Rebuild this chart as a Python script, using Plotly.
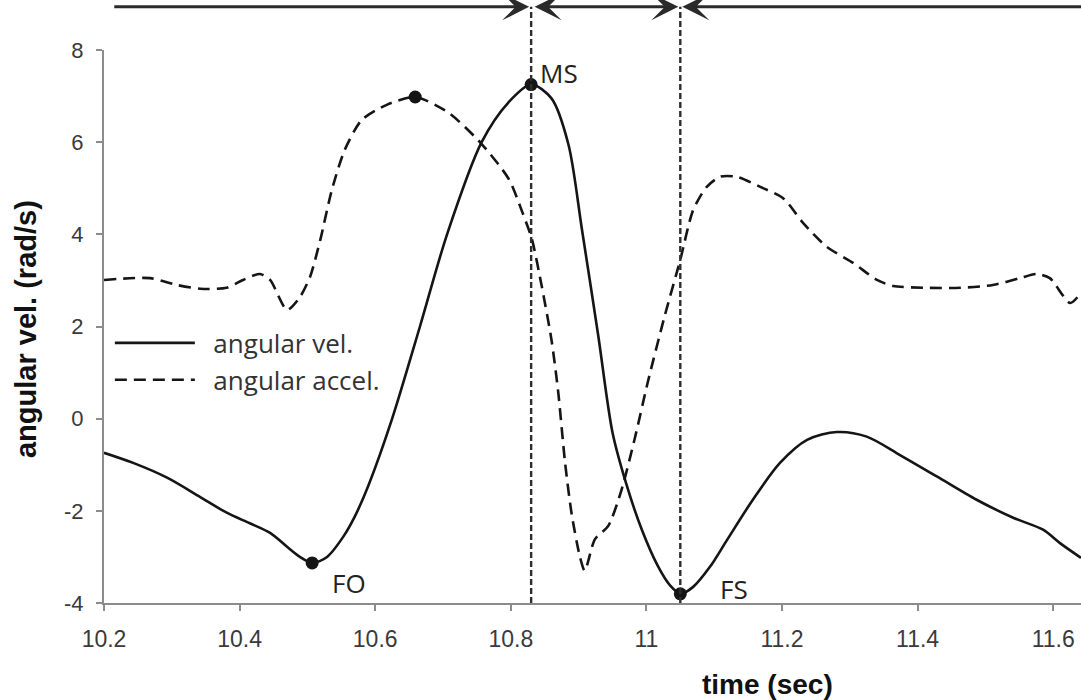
import plotly.graph_objects as go

# angular velocity (rad/s) sampled over time (sec)
t_vel = [10.200, 10.243, 10.293, 10.342, 10.381, 10.415, 10.445, 10.470, 10.489,
         10.507, 10.529, 10.553, 10.570, 10.590, 10.625, 10.666, 10.706, 10.757,
         10.797, 10.830, 10.860, 10.885, 10.905, 10.929, 10.950, 10.970, 10.993,
         11.017, 11.035, 11.050, 11.069, 11.094, 11.119, 11.157, 11.197, 11.237,
         11.281, 11.325, 11.374, 11.429, 11.487, 11.541, 11.585, 11.610, 11.641]
vel = [-0.74, -0.96, -1.28, -1.70, -2.04, -2.27, -2.48, -2.78, -3.00,
       -3.13, -3.00, -2.56, -2.12, -1.45, 0.00, 2.00, 4.00, 6.00,
       6.87, 7.25, 6.95, 5.95, 4.10, 1.80, -0.30, -1.40, -2.40,
       -3.20, -3.62, -3.80, -3.65, -3.21, -2.63, -1.76, -0.96, -0.46,
       -0.29, -0.39, -0.79, -1.26, -1.76, -2.15, -2.41, -2.70, -3.02]

# angular acceleration sampled over time (sec)
t_acc = [10.200, 10.268, 10.308, 10.342, 10.381, 10.405, 10.430, 10.445, 10.470,
         10.489, 10.504, 10.519, 10.536, 10.555, 10.580, 10.617, 10.659, 10.708,
         10.757, 10.797, 10.816, 10.831, 10.845, 10.860, 10.870, 10.880, 10.890,
         10.902, 10.909, 10.924, 10.944, 10.963, 10.983, 11.002, 11.027, 11.050,
         11.069, 11.089, 11.109, 11.133, 11.168, 11.202, 11.231, 11.266, 11.305,
         11.340, 11.364, 11.414, 11.463, 11.511, 11.551, 11.576, 11.595, 11.625,
         11.641]
acc = [3.01, 3.05, 2.90, 2.82, 2.84, 3.01, 3.14, 3.01, 2.36,
       2.64, 3.08, 3.88, 4.96, 5.83, 6.48, 6.81, 6.98, 6.64,
       5.96, 5.20, 4.52, 3.90, 2.92, 1.71, 0.57, -0.95, -2.09,
       -3.00, -3.30, -2.62, -2.32, -1.56, -0.42, 0.79, 2.23, 3.45,
       4.53, 5.03, 5.25, 5.25, 5.03, 4.78, 4.25, 3.73, 3.38,
       3.01, 2.88, 2.84, 2.84, 2.90, 3.05, 3.14, 3.05, 2.51,
       2.73]

# gait events on the velocity curve
event_names = ["FO", "MS", "FS"]
event_t = [10.507, 10.830, 11.050]
event_v = [-3.13, 7.25, -3.80]

# peak of the acceleration curve
acc_peak_t = [10.659]
acc_peak_v = [6.98]

# phase boundaries (vertical markers)
phase_t = [10.830, 11.050]

x_ticks = [10.2, 10.4, 10.6, 10.8, 11.0, 11.2, 11.4, 11.6]
x_ticktext = ["10.2", "10.4", "10.6", "10.8", "11", "11.2", "11.4", "11.6"]
y_ticks = [-4, -2, 0, 2, 4, 6, 8]
y_ticktext = ["-4", "-2", "0", "2", "4", "6", "8"]

INK = "#151515"
AXIS = "#8c8c8c"
LABEL_FONT = "Open Sans"
TICK_FONT = "Liberation Sans"
NBSP = "\u00a0"

fig = go.Figure()

fig.add_trace(go.Scatter(
    x=t_vel, y=vel, mode="lines", name=NBSP * 2 + "angular vel.",
    line=dict(color=INK, width=2.6, shape="spline", smoothing=0.85),
))
fig.add_trace(go.Scatter(
    x=t_acc, y=acc, mode="lines", name=NBSP * 2 + "angular accel.",
    line=dict(color=INK, width=2.6, dash="12px,7px", shape="spline", smoothing=0.7),
))
fig.add_trace(go.Scatter(
    x=event_t, y=event_v, mode="markers", showlegend=False,
    marker=dict(color=INK, size=13), cliponaxis=False,
))
fig.add_trace(go.Scatter(
    x=acc_peak_t, y=acc_peak_v, mode="markers", showlegend=False,
    marker=dict(color=INK, size=13), cliponaxis=False,
))

# the plot area tops out at y=8 (paper 1.0); the phase bar runs just above it
bar_y = 1.078

for t in phase_t:
    fig.add_shape(type="line", xref="x", yref="paper", x0=t, x1=t, y0=0, y1=bar_y,
                  line=dict(color="#2e2e2e", width=2.4, dash="6px,3px"), layer="above")

arrow_style = dict(showarrow=True, text="", xref="x", yref="paper", axref="x", ayref="pixel",
                   ay=0, arrowhead=3, arrowsize=1.5, arrowwidth=3, arrowcolor="#2a2a2a",
                   standoff=2, startstandoff=2)
fig.add_annotation(x=phase_t[0], y=bar_y, ax=10.21, **arrow_style)
fig.add_annotation(x=phase_t[1], y=bar_y, ax=phase_t[0], arrowside="end+start",
                   startarrowhead=3, startarrowsize=1.5, **arrow_style)
fig.add_annotation(x=phase_t[1], y=bar_y, ax=11.70, **arrow_style)

# event labels
label_offsets = {"FO": (18, 20), "MS": (7, -12), "FS": (38, -5)}
for name, t, v in zip(event_names, event_t, event_v):
    dx, dy = label_offsets[name]
    fig.add_annotation(x=t, y=v, text=name, showarrow=False, xref="x", yref="y",
                       xanchor="left", yanchor="middle", xshift=dx, yshift=-dy,
                       font=dict(family=LABEL_FONT, size=26, color="#222222"))

# axis titles
fig.add_annotation(text="<b>time (sec)</b>", xref="paper", yref="paper",
                   x=0.6796, y=-0.1465, showarrow=False, xanchor="center", yanchor="middle",
                   font=dict(family=TICK_FONT, size=28, color="#111111"))
fig.add_annotation(text="<b>angular vel. (rad/s)</b>", xref="paper", yref="paper",
                   x=-0.0798, y=0.4955, showarrow=False, textangle=-90,
                   xanchor="center", yanchor="middle",
                   font=dict(family=TICK_FONT, size=29, color="#111111"))

fig.update_xaxes(
    range=[10.2, 11.641], tickvals=x_ticks, ticktext=x_ticktext,
    showgrid=False, zeroline=False, showline=True, linecolor=AXIS, linewidth=2,
    ticks="outside", ticklen=6, tickwidth=1.5, tickcolor=AXIS, ticklabelstandoff=8,
    tickfont=dict(family=TICK_FONT, size=23, color="#3a3a3a"),
)
fig.update_yaxes(
    range=[-4, 8], tickvals=y_ticks, ticktext=y_ticktext,
    showgrid=False, zeroline=False, showline=True, linecolor=AXIS, linewidth=2,
    ticks="outside", ticklen=6, tickwidth=1.5, tickcolor=AXIS, ticklabelstandoff=8,
    tickfont=dict(family=TICK_FONT, size=22, color="#3a3a3a"),
)

fig.update_layout(
    width=1081, height=700,
    margin=dict(l=104, r=0, t=50, b=97),
    plot_bgcolor="white", paper_bgcolor="white",
    showlegend=True,
    legend=dict(
        x=0.006, y=0.4367, xanchor="left", yanchor="middle",
        bgcolor="rgba(0,0,0,0)", borderwidth=0,
        traceorder="normal", itemwidth=80,
        font=dict(family=LABEL_FONT, size=26, color="#333333"),
    ),
)

fig.write_html("out.html")
